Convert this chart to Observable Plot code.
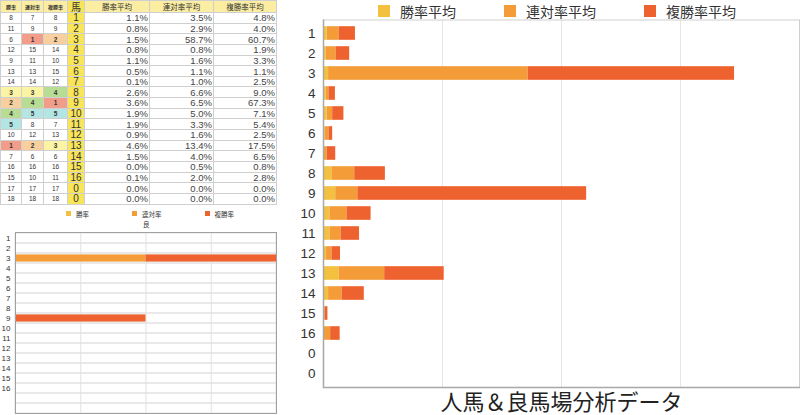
<!DOCTYPE html>
<html><head><meta charset="utf-8">
<script src="https://cdn.jsdelivr.net/npm/d3@7"></script>
<script src="https://cdn.jsdelivr.net/npm/@observablehq/plot@0.6"></script>
<style>
body{margin:0;background:#fff;font-family:"Liberation Sans","Noto Sans CJK JP",sans-serif;color:#333;}
#root{position:relative;width:800px;height:415px;overflow:hidden;background:#fff;}
#tbl{position:absolute;left:0;top:0;display:grid;gap:1px;padding:1px;background:#cfcfcf;
 grid-template-columns:20px 21px 23px 16px 64px 63px 62px;grid-template-rows:11px repeat(18,9.65px);}
#tbl div{background:#fff;overflow:hidden;white-space:nowrap;display:flex;align-items:center;}
#tbl .hr{background:#fbeea2;justify-content:center;font-size:5px;font-weight:bold;}
#tbl .hh{background:#f8e55a;justify-content:center;font-size:10px;}
#tbl .hv{background:#fbeea2;justify-content:center;font-size:7.5px;}
#tbl .rk{justify-content:center;font-size:6.5px;}
#tbl .hs{background:#f8e55a;justify-content:center;font-size:10px;}
#tbl .v{justify-content:flex-end;padding-right:1px;font-size:9.5px;color:#444;}
.leg{position:absolute;display:flex;align-items:center;white-space:nowrap;}
.leg span.sq{display:inline-block;}
#big{position:absolute;left:290px;top:18px;}
#small{position:absolute;left:0;top:231px;}
</style></head><body><div id="root"></div>
<script>
// ---- data ----
const horses = ["1","2","3","4","5","6","7","8","9","10","11","12","13","14","15","16","0","0"];
const winRank     = [8,11,6,12,9,13,14,3,2,4,5,10,1,7,16,15,17,18];
const rentaiRank  = [7,9,1,15,11,13,14,3,4,5,8,12,2,6,16,10,17,18];
const fukushoRank = [8,9,2,14,10,15,12,4,1,5,7,13,3,6,16,11,17,18];
const winAvg      = [1.1,0.8,1.5,0.8,1.1,0.5,0.1,2.6,3.6,1.9,1.9,0.9,4.6,1.5,0.0,0.1,0.0,0.0];
const rentaiAvg   = [3.5,2.9,58.7,0.8,1.6,1.1,1.0,6.6,6.5,5.0,3.3,1.6,13.4,4.0,0.5,2.0,0.0,0.0];
const fukushoAvg  = [4.8,4.0,60.7,1.9,3.3,1.1,2.5,9.0,67.3,7.1,5.4,2.5,17.5,6.5,0.8,2.8,0.0,0.0];
const seriesNames = ["勝率平均","連対率平均","複勝率平均"];
const rankHeaders = ["勝率","連対率","複勝率"];
const horseHeader = "馬";
// 良 (good ground) chart
const goodLabel = "良";
const goodWin     = [0,0,0,0,0,0,0,0,0,0,0,0,0,0,0,0,0,0];
const goodRentai  = [0,0,100,0,0,0,0,0,0,0,0,0,0,0,0,0,0,0];
const goodFukusho = [0,0,100,0,0,0,0,0,100,0,0,0,0,0,0,0,0,0];
const bigTicks = [35,70,105];
const smallTicks = [50,100,150];
const titleText = "人馬＆良馬場分析データ";

const colors = ["#f3c13f","#f39c38","#ee622f"];
const rankColors = {1:"#f29c8a",2:"#f8cf9e",3:"#fbf4a4",4:"#b7dd95",5:"#b3e5e4"};

const root = document.getElementById("root");

// ---- table ----
const tbl = document.createElement("div"); tbl.id = "tbl";
function cell(cls, text, bg, bold){ const d=document.createElement("div"); d.className=cls; d.textContent=text; if(bg) d.style.background=bg; if(bold) d.style.fontWeight="bold"; tbl.appendChild(d); }
rankHeaders.forEach(h=>cell("hr",h));
cell("hh",horseHeader);
seriesNames.forEach(h=>cell("hv",h));
horses.forEach((h,i)=>{
  [winRank[i],rentaiRank[i],fukushoRank[i]].forEach(r=>cell("rk",String(r),rankColors[r],r<=5));
  cell("hs",h);
  [winAvg[i],rentaiAvg[i],fukushoAvg[i]].forEach(v=>cell("v",v.toFixed(1)+"%"));
});
root.appendChild(tbl);

// ---- legends ----
function legend(names, left, top, sq, gapText, gapItem, fs, cols){
  const L=document.createElement("div"); L.className="leg"; L.style.left=left+"px"; L.style.top=top+"px"; L.style.fontSize=fs+"px"; L.style.gap=gapItem+"px";
  names.forEach((n,k)=>{const it=document.createElement("div"); it.style.display="flex"; it.style.alignItems="center";
    const s=document.createElement("span"); s.className="sq"; s.style.width=sq+"px"; s.style.height=sq+"px"; s.style.background=cols[k]; s.style.marginRight=gapText+"px";
    const t=document.createElement("span"); t.textContent=n; it.appendChild(s); it.appendChild(t); L.appendChild(it);});
  root.appendChild(L); return L;
}
const bl = legend(seriesNames, 378, 1, 12, 10, 48, 14, colors);
bl.style.color="#333"; bl.style.fontFamily='"Noto Sans CJK JP",sans-serif'; bl.style.height="20px";
const sl = legend(rankHeaders, 66, 209, 5, 5, 43, 6.5, colors);
sl.style.height="9px";
const gl=document.createElement("div"); gl.textContent=goodLabel; gl.style.cssText="position:absolute;left:143px;top:219px;font-size:6.5px;";
root.appendChild(gl);

// ---- big chart ----
const idx = horses.map((_,i)=>i);
const bigData = [];
idx.forEach(i=>{ [winAvg,rentaiAvg,fukushoAvg].forEach((arr,k)=>bigData.push({i, s:seriesNames[k], v:arr[i]})); });
const big = Plot.plot({
  width:510, height:397, marginLeft:33, marginRight:1, marginTop:1.5, marginBottom:28,
  style:{fontFamily:'"Liberation Sans",sans-serif', fontSize:"13.5px", color:"#333", background:"transparent"},
  x:{domain:[0,140], axis:null},
  y:{domain:idx, padding:0, tickSize:0, tickPadding:8, tickFormat:i=>horses[i], label:null},
  color:{domain:seriesNames, range:colors},
  marks:[
    Plot.ruleX(bigTicks,{stroke:"#e6e6e6"}),
    Plot.barX(bigData,{y:"i", x:"v", fill:"s", insetTop:3.2, insetBottom:3.2, order:seriesNames}),
    Plot.frame({stroke:"#cfcfcf"}),
    Plot.ruleX([0],{stroke:"#a8a8a8", strokeWidth:1.5}),
    Plot.frame({anchor:"bottom", stroke:"#a8a8a8", strokeWidth:1.5}),
    Plot.text([titleText],{frameAnchor:"bottom", lineAnchor:"bottom", dy:22, fontSize:22, fill:"#222", fontFamily:'"Noto Sans CJK JP",sans-serif'})
  ]
});
big.id="big"; root.appendChild(big);

// ---- small chart ----
const smallData = [];
idx.forEach(i=>{ [goodWin,goodRentai,goodFukusho].forEach((arr,k)=>smallData.push({i, s:rankHeaders[k], v:arr[i]})); });
const small = Plot.plot({
  width:280, height:183, marginLeft:15, marginRight:4, marginTop:1, marginBottom:1,
  style:{fontFamily:'"Liberation Sans",sans-serif', fontSize:"8px", color:"#333", background:"transparent"},
  x:{domain:[0,200], axis:null},
  y:{domain:idx, padding:0, tickSize:0, tickPadding:5, tickFormat:i=>i<16?horses[i]:"", label:null},
  color:{domain:rankHeaders, range:colors},
  marks:[
    Plot.barX(idx,{y:d=>d, x1:0, x2:200, fill:"none", stroke:"#e2e2e2"}),
    Plot.ruleX(smallTicks,{stroke:"#e2e2e2"}),
    Plot.barX(smallData,{y:"i", x:"v", fill:"s", insetTop:1.4, insetBottom:1.4, order:rankHeaders}),
    Plot.frame({stroke:"#a0a0a0"})
  ]
});
small.id="small"; root.appendChild(small);
</script></body></html>
